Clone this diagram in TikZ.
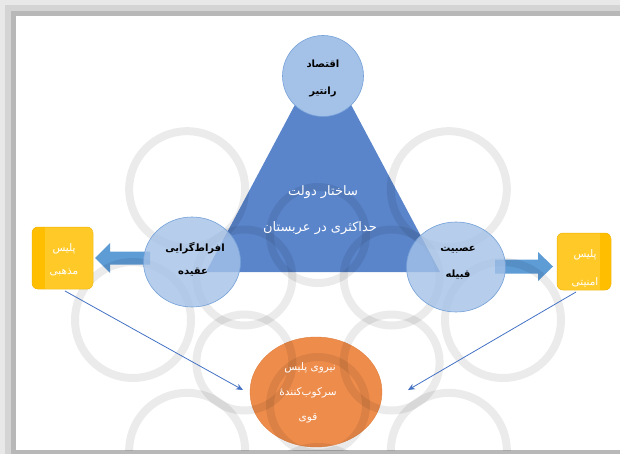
\documentclass[tikz,border=0pt]{standalone}
\usepackage{fontspec}
\newfontfamily\fa[Script=Arabic]{DejaVu Sans}
\TeXXeTstate=1
\usetikzlibrary{arrows.meta,shapes.geometric}
\definecolor{tri}{HTML}{5A85CB}
\definecolor{circfill}{HTML}{A4C2E8}
\definecolor{circline}{HTML}{74A0D8}
\definecolor{arrowblue}{HTML}{5E9CD6}
\definecolor{linkblue}{HTML}{4472C4}
\definecolor{boxlight}{HTML}{FFCA28}
\definecolor{boxdark}{HTML}{FFBE00}
\definecolor{boxline}{HTML}{F0B400}
\definecolor{orangefill}{HTML}{EE8C4B}
\definecolor{orangeline}{HTML}{E07F3E}
\tikzset{
  bubble/.style={ellipse, minimum width=#1, fill=circfill, fill opacity=0.8, draw=circline, line width=0.6pt},
  policebox/.style={rectangle, rounded corners=6pt, minimum width=60pt, minimum height=62pt, draw=boxline, line width=0.5pt},
  link/.style={draw=linkblue, line width=0.8pt, -{Stealth[length=7pt,width=6pt]}},
  wm/.style={draw=black, line width=8pt, opacity=0.08},
  txt/.style={align=center, font=\fa\bfseries\fontsize{10}{12}\selectfont},
  wtxt/.style={align=center, text=white, font=\fa\fontsize{10.5}{12}\selectfont},
}
\begin{document}
\begin{tikzpicture}[x=1pt,y=-1pt]
\useasboundingbox (0,0) rectangle (620,454);
% page and shadow border
\fill[white] (0,0) rectangle (620,454);
\fill[black!9] (0,0) rectangle (620,5);
\fill[black!17] (0,5) rectangle (620,11);
\fill[black!28] (0,11) rectangle (620,16);
\fill[black!9] (0,0) rectangle (5,454);
\fill[black!17] (5,11) rectangle (11,454);
\fill[black!28] (11,16) rectangle (16,454);
\fill[black!28] (16,450) rectangle (620,454);

% triangle
\coordinate (apex) at (323,52);
\coordinate (bl) at (206,272);
\coordinate (br) at (440,272);
\fill[tri] (apex) -- (bl) -- (br) -- cycle;

% thick arrows
\fill[arrowblue] (150,251.5) -- (110,251.5) -- (110,243) -- (95,258) -- (110,273) -- (110,264.5) -- (150,264.5) -- cycle;
\fill[arrowblue] (495,259.5) -- (538,259.5) -- (538,252) -- (553,266.5) -- (538,281) -- (538,273.5) -- (495,273.5) -- cycle;

% bottom ellipse
\node[ellipse, minimum width=132pt, minimum height=110pt, fill=orangefill, draw=orangeline, line width=0.4pt] (ell) at (316,392) {};

% watermark
\begin{scope}
\clip (16,16) rectangle (620,450);
\foreach \a in {0,60,...,300}
  \draw[wm] (318,320) ++(\a+30:85) circle[radius=48];
\foreach \a in {0,45,90,135,180,225,315}
  \draw[wm] (318,320) ++(\a:185) circle[radius=58];
\end{scope}

% circles
\node[bubble=81pt, minimum height=81pt, fill opacity=1] (top) at (323,76) {};
\node[bubble=97pt, minimum height=90pt] (left) at (192,262) {};
\node[bubble=99pt, minimum height=90pt] (right) at (456,267) {};

% boxes
\begin{scope}
\clip[rounded corners=6pt] (32,227) rectangle (93,289);
\fill[boxlight] (32,227) rectangle (93,289);
\fill[boxdark] (32,227) rectangle (45,289);
\end{scope}
\node[policebox, minimum width=61pt] (lbox) at (62.5,258) {};
\begin{scope}
\clip[rounded corners=6pt] (557,233) rectangle (611,290);
\fill[boxlight] (557,233) rectangle (611,290);
\fill[boxdark] (600,233) rectangle (611,290);
\end{scope}
\node[policebox, minimum width=54pt, minimum height=57pt] (rbox) at (584,261.5) {};

% connectors
\coordinate (lstart) at (65,291);
\coordinate (rstart) at (576,292);
\coordinate (lend) at (243,390);
\coordinate (rend) at (408,390);
\draw[link] (lstart) -- (lend);
\draw[link] (rstart) -- (rend);

% texts
\node[txt] (t1) at (323,64) {\beginR اقتصاد\endR};
\node[txt] (t2) at (323,92) {\beginR رانتیر\endR};
\node[wtxt, font=\fa\fontsize{13}{14}\selectfont] (t3) at (323,192) {\beginR ساختار دولت\endR};
\node[wtxt, font=\fa\fontsize{13}{14}\selectfont] (t4) at (320,228) {\beginR حداکثری در عربستان\endR};
\node[txt] (t5) at (195,248) {\beginR افراط‌گرایی\endR};
\node[txt] (t6) at (193,272) {\beginR عقیده\endR};
\node[txt] (t7) at (458,250) {\beginR عصبیت\endR};
\node[txt] (t8) at (458,275) {\beginR قبیله\endR};
\node[wtxt] (t9) at (64,249) {\beginR پلیس\endR};
\node[wtxt] (t10) at (64,272) {\beginR مذهبی\endR};
\node[wtxt] (t11) at (585,255) {\beginR پلیس\endR};
\node[wtxt] (t12) at (585,282) {\beginR امنیتی\endR};
\node[wtxt] (t13) at (310,368) {\beginR نیروی پلیس\endR};
\node[wtxt] (t14) at (308,393) {\beginR سرکوب‌کنندهٔ\endR};
\node[wtxt] (t15) at (308,418) {\beginR قوی\endR};
\end{tikzpicture}
\end{document}
